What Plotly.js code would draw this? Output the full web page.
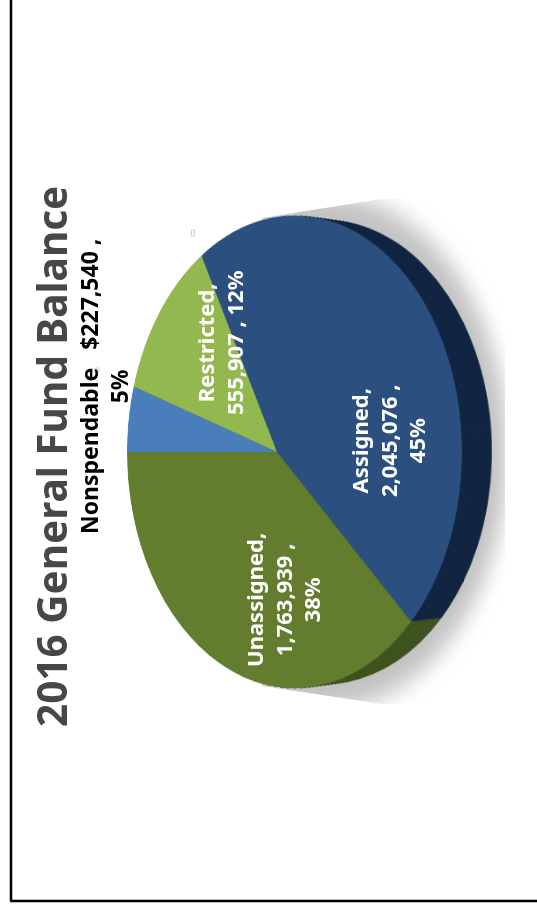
<!DOCTYPE html>
<html>
<head>
<meta charset="utf-8">
<script src="https://cdn.plot.ly/plotly-3.0.1.min.js"></script>
<style>
  html, body { margin: 0; padding: 0; background: #fff; width: 537px; height: 906px; overflow: hidden; }
  .layer { position: absolute; }
  /* The disc lies on a tilted plane, so its near side reads larger than its far side. */
  #discPlot, #shadowPlot { width: 800px; height: 800px; transform-origin: 400px 400px; }
  #discPlot { left: -123px; top: 52px; transform: perspective(1594px) rotateY(-45.2deg); }
  #shadowClip { left: 0; top: 0; width: 537px; height: 906px;
    clip-path: polygon(262px 218px, 382px 199px, 505px 199px, 505px 704px, 382px 704px, 262px 686px); }
  #shadowPlot { left: -96px; top: 52px; filter: blur(10px);
    transform: perspective(1594px) rotateY(-45.2deg) scale(1.09); }
  #textPlot { left: 0; top: 0; width: 537px; height: 906px; }
</style>
</head>
<body>
<div id="shadowClip" class="layer"><div id="shadowPlot" class="layer"></div></div>
<div id="discPlot" class="layer"></div>
<div id="textPlot" class="layer"></div>
<script>
// 2016 General Fund Balance, by fund class
const categories = ['Nonspendable', 'Restricted', 'Assigned', 'Unassigned'];
const balances = [227540, 555907, 2045076, 1763939];
const faceColors = ['#4a7ebb', '#94b850', '#2b5080', '#617d2d'];
const rimColors = ['#1d3a5c', '#4d6328', '#122643', '#3f5420'];

const PLOT = 800, RADIUS = 235, CENTER = 400;
const RIM_DEPTH = 42, RIM_STEP = 1.5, RIM_TAPER = 0.2;

function slice(values, colors, shift, radius) {
  return {
    type: 'pie', values: values, labels: categories, sort: false,
    direction: 'clockwise', rotation: -90, textinfo: 'none', hoverinfo: 'skip',
    showlegend: false,
    marker: { colors: colors, line: { width: 0 } },
    domain: {
      x: [(CENTER - radius + shift) / PLOT, (CENTER + radius + shift) / PLOT],
      y: [(CENTER - radius) / PLOT, (CENTER + radius) / PLOT]
    }
  };
}

const blankLayout = {
  width: PLOT, height: PLOT, margin: { l: 0, r: 0, t: 0, b: 0 },
  paper_bgcolor: 'rgba(0,0,0,0)', plot_bgcolor: 'rgba(0,0,0,0)', showlegend: false
};
const staticConfig = { staticPlot: true, displayModeBar: false };

// The rim is a stack of darker, slightly tapering copies of the disc, farthest first, with the face on top.
const discTraces = [];
for (let s = RIM_DEPTH; s > 0; s -= RIM_STEP) {
  discTraces.push(slice(balances, rimColors, s, RADIUS - RIM_TAPER * s));
}
discTraces.push(slice(balances, faceColors, 0, RADIUS));
Plotly.newPlot('discPlot', discTraces, blankLayout, staticConfig);

const shadowColors = categories.map(() => '#c2c2c2');
Plotly.newPlot('shadowPlot', [slice(balances, shadowColors, 0, RADIUS)], blankLayout, staticConfig);

// Text sits in its own unskewed layer, turned to read bottom to top.
const W = 537, H = 906;
const total = balances.reduce((a, b) => a + b, 0);
const pct = balances.map(v => Math.round(v / total * 100) + '%');
const num = balances.map(v => v.toLocaleString('en-US'));

function note(text, px, py, size, color) {
  return {
    text: text, xref: 'paper', yref: 'paper', x: px / W, y: 1 - py / H,
    xanchor: 'center', yanchor: 'middle', showarrow: false, textangle: -90, align: 'center',
    font: { family: '"Noto Sans", "Open Sans", sans-serif', size: size, color: color }
  };
}
function edge(x0, y0, x1, y1, color, width) {
  return {
    type: 'line', xref: 'paper', yref: 'paper',
    x0: x0 / W, x1: x1 / W, y0: 1 - y0 / H, y1: 1 - y1 / H,
    line: { color: color, width: width }
  };
}
function speck(x0, y0, x1, y1) {
  return {
    type: 'rect', xref: 'paper', yref: 'paper',
    x0: x0 / W, x1: x1 / W, y0: 1 - y0 / H, y1: 1 - y1 / H,
    line: { color: '#cfcfcf', width: 1 }
  };
}

const annotations = [
  note('<b>2016 General Fund Balance</b>', 51, 457, 40.5, '#474747'),
  note('<b>' + categories[0] + '   $' + num[0] + ' ,<br>' + pct[0] + '</b>', 104, 387, 23, '#000000'),
  note('<b>' + categories[1] + ',<br>' + num[1] + ' , ' + pct[1] + '</b>', 219, 343, 22, '#ffffff'),
  note('<b>' + categories[2] + ',<br>' + num[2] + ' ,<br>' + pct[2] + '</b>', 388, 441, 22, '#ffffff'),
  note('<b>' + categories[3] + ',<br>' + num[3] + ' ,<br>' + pct[3] + '</b>', 282, 600, 22, '#ffffff')
];

const shapes = [
  edge(11, 0, 11, 901, '#000000', 2.5),
  edge(10, 901, 537, 901, '#000000', 2.5),
  speck(191.5, 236, 194.5, 230),
  speck(95, 372, 99, 368)
];

Plotly.newPlot('textPlot', [], {
  width: W, height: H, margin: { l: 0, r: 0, t: 0, b: 0 },
  paper_bgcolor: 'rgba(0,0,0,0)', plot_bgcolor: 'rgba(0,0,0,0)',
  xaxis: { visible: false }, yaxis: { visible: false },
  annotations: annotations, shapes: shapes
}, staticConfig);
</script>
</body>
</html>
